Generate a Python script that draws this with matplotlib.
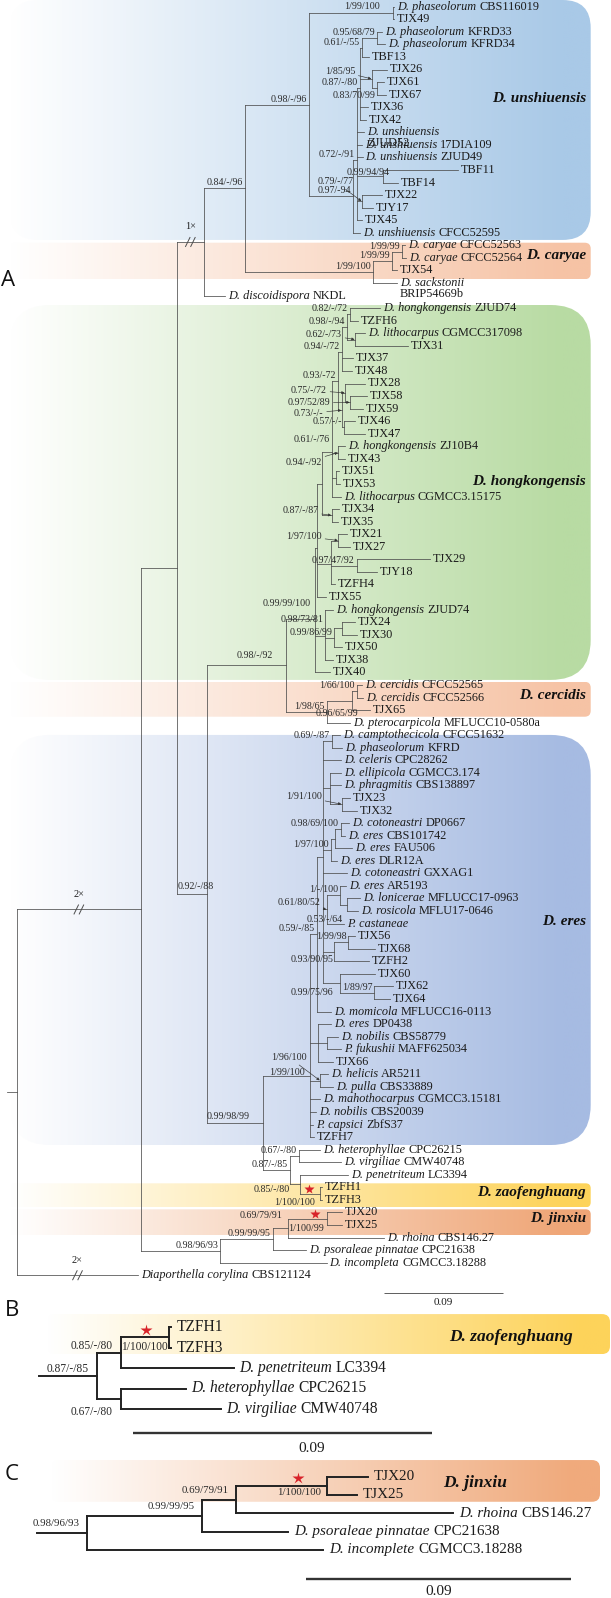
import matplotlib
matplotlib.use("Agg")
import matplotlib.pyplot as plt
import numpy as np
from matplotlib.patches import FancyBboxPatch
from matplotlib.collections import LineCollection
from matplotlib.colors import to_rgb
from matplotlib.transforms import offset_copy

# ============================ DATA ============================
SCALE_VALUE = 0.09   # substitutions/site shown by each scale bar
SCALE_UNITS = 119    # branch-length units used below that equal SCALE_VALUE

# Newick pieces. Leaf text "italic part|roman part" ('~' starts a second line).
# Internal labels are PP/ML/MP supports; an optional '#id' is a styling hook.
UNSHIUENSIS = (
    "(('D. phaseolorum|CBS116019':0.8,'TJX49':0.8)'1/99/100#u3':84,"
    "((((('D. phaseolorum|KFRD33':5,'D. phaseolorum|KFRD34':8)'0.95/68/79':15.3,'TBF13':7.3)'0.61/-/55':1.7,"
    "('TJX26':15.3,('TJX61':7.3,'TJX67':9.3)'0.83/70/99#ub1':5)'1/85/95#ub':11.7,"
    "'TJX36':8,'TJX42':6)'0.87/-/80':3.3,"
    "'D. unshiuensis|~ZJUD52':7.3,'D. unshiuensis|17DIA109':5.3,'D. unshiuensis|ZJUD49':5.8,"
    "('TBF11':75,'TBF14':15)'0.99/94/94#ut':26.6,('TJX22':20,'TJY17':11)'0.79/-/77#uq':5,"
    "'TJX45':5)'0.72/-/91':3.4,'D. unshiuensis|CFCC52595':6.7)'0.97/-94':44)'0.98/-/96':64.3")

CARYAE = ("((('D. caryae|CFCC52563':3.3,'D. caryae|CFCC52564':4.3)'1/99/99':10,'TJX54':5)'1/99/99':19,"
          "'D. sackstonii|~BRIP54669b':24)'1/99/100':127.7")

DISCOIDISPORA = "'D. discoidispora|NKDL':21"

HONGKONGENSIS = (
    "(((((((('D. hongkongensis|ZJUD74':30,'TZFH6':8)'0.82/-/72':3.3,"
    "('D. lithocarpus|CGMCC317098':10,'TJX31':53)'0.62/-/73#hf2':8.3)'0.98/-/94':4.7,"
    "'TJX37':11,'TJX48':10)'0.94/-/72':4,"
    "(('TJX28':20,('TJX58':17,'TJX59':13)'0.97/52/89#hg1':5)'0.75/-/72#hg':3.3,"
    "('TJX46':10.7,'TJX47':20.7)'0.57/-/-':2.6)'0.73/-/-#hx':3.7)'0.93/-72':6.3,"
    "('D. hongkongensis|ZJ10B4':6.7,'TJX43':6.7)'0.94/-/92#hi':6.6,"
    "('TJX51':3,'TJX53':4):4.3,'D. lithocarpus|CGMCC3.15175':9.3)'0.61/-/76#hc':9.7,"
    "('TJX34':7.3,'TJX35':6.3)'0.87/-/87#hk':9.7):5,"
    "(('TJX21':8.7,'TJX27':11.7)'1/97/100#hb1':7.3,('TJX29':73.3,'TJY18':20.3)'0.97/47/92':25.7,'TZFH4':4):14,"
    "'TJX55':9):2,"
    "('D. hongkongensis|ZJUD74':8,(('TJX24':13.3,'TJX30':15.3):7.7,'TJX50':8)'0.99/86/99':9,'TJX38':8)'0.98/73/81#k2':10,"
    "'TJX40':15)'0.99/99/100#k':29.3")

CERCIDIS = ("((('D. cercidis|CFCC52565':5,'D. cercidis|CFCC52566':6)'1/66/100':5,'TJX65':18)'0.96/65/99#c2':25.3,"
            "'D. pterocarpicola|MFLUCC10-0580a':23.3)'1/98/65':41")

ERES = (
    "((("
    "('D. camptothecicola|CFCC51632':8.3,'D. phaseolorum|KFRD':10.3)'0.69/-/87':9,"
    "'D. celeris|CPC28262':18.3,"
    "('D. ellipicola|CGMCC3.174':11,'D. phragmitis|CBS138897':11,('TJX23':8.3,'TJX32':15.3)'1/91/100#ep1':11.7):7.3,"
    "((('D. cotoneastri|DP0667':8,'D. eres|CBS101742':4)'0.98/69/100':6,'D. eres|FAU506':17):4,'D. eres|DLR12A':6)'1/97/100':8.3,"
    "'D. cotoneastri|GXXAG1':24.3,"
    "(('D. eres|AR5193':6,('D. lonicerae|MFLUCC17-0963':13,'D. rosicola|MFLU17-0646':11):7)'1/-/100':13.3,'P. castaneae|':17.3)'0.61/80/52#y0':4,"
    "(('TJX56':6.7,'TJX68':26.7)'1/99/98':14,'TZFH2':34.7)'0.93/90/95#z1':11.6,"
    "('TJX60':35,('TJX62':18.7,'TJX64':15.7)'1/89/97':34.3)'0.99/75/96#w1':17.3"
    "):5.7,'D. momicola|MFLUCC16-0113':14)'0.59/-/85':7,"
    "('D. eres|DP0438':13,('D. nobilis|CBS58779':11.3,'P. fukushii|MAFF625034':14.3):8.7,'TJX66':15):8,"
    "('D. helicis|AR5211':8,'D. pulla|CBS33889':13)'1/96/100#hp':10,"
    "'D. mahothocarpus|CGMCC3.15181':10,'D. nobilis|CBS20039':6,'P. capsici|ZbfS37':3,'TZFH7':4"
    ")'1/99/100#e':47.3")

ZAOFENGHUANG = ("(('D. heterophyllae|CPC26215':21,'D. virgiliae|CMW40748':42)'0.67/-/80':9,"
                "('D. penetriteum|LC3394':48,('TZFH1':2.4,'TZFH3':2.4)'1/100/100#z':19.6)'0.85/-/80#h':10)'0.87/-/85':27.3")

JINXIU = ("(((('TJX20':14.6,'TJX25':14.6)'1/100/99#j3':39.8,'D. rhoina|CBS146.27':96.3)'0.69/79/91#j2':14.6,"
          "'D. psoraleae pinnatae|CPC21638':33)'0.99/99/95':53,'D. incompleta|CGMCC3.18288':106.6)'0.98/96/93':79.3")

OUTGROUP = "'Diaporthella corylina|CBS121124':121"

BACKBONE_A = ("((((({UNS},{CAR})'0.84/-/96':41,{DIS})'#u0':27.3,"
              "(({HKG},{CER})'0.98/-/92#p1':79,({ERE},{ZAO})'0.99/98/99#p2':56)'0.92/-/88#p0':30):36,"
              "{JIN})'#r1':123.7,{OUT}):10")

TREE_B = ("((('TZFH1':0.8,'TZFH3':0.8)'1/100/100#z':19.4,'D. penetriteum|LC3394':45)'0.85/-/80':9.6,"
          "('D. heterophyllae|CPC26215':26,'D. virgiliae|CMW40748':40)'0.67/-/80#g':9.6)'0.87/-/85':23")

TREE_C = ("(((('TJX20':18.5,'TJX25':13.5)'1/100/100#j3':40.8,'D. rhoina|CBS146.27':97.5)'0.69/79/91':15.2,"
          "'D. psoraleae pinnatae|CPC21638':38.8)'0.99/99/95':51.8,'D. incomplete|CGMCC3.18288':106.4)'0.98/96/93':22.2")

LEAF_SUPPORT_A = {'P. castaneae|': '0.53/-/64'}

CLADE_NAMES_A = ['D. unshiuensis', 'D. caryae', 'D. hongkongensis', 'D. cercidis',
                 'D. eres', 'D. zaofenghuang', 'D. jinxiu']
CLADE_ROWS_A = [(0, 18), (19, 21), (24, 53), (54, 56), (58, 90), (94, 95), (96, 97)]
CLADE_COLORS_A = ['#a9c9e7', '#f6c3a5', '#b8dba3', '#f6c3a5', '#a6bbe2', '#fdd35a', '#efa677']
CLADE_B = ('D. zaofenghuang', (0, 1), '#fdd35a')
CLADE_C = ('D. jinxiu', (0, 1), '#f0aa7c')

BREAKS_A = {'u0': '1\u00d7', 'r1': '2\u00d7', 'Diaporthella corylina|CBS121124': '2\u00d7'}

# ============================ STYLE ============================
W, H, DPI = 611, 1598, 100
PT = 72.0 / DPI
TXT = '#1c1c1c'
plt.rcParams['font.family'] = ['Liberation Serif', 'DejaVu Sans']

GEO_A = dict(root_px=17, ppu=1.0, row0=6.7, row=12.56)
GEO_B = dict(root_px=96.6, ppu=2.513, row0=1327, row=20.5)
GEO_C = dict(root_px=86.5, ppu=2.227, row0=1476.7, row=18.3)

# box styles: (pad_top rows, pad_bottom rows, radius px, label fraction)
BOX_STYLE_A = [(0.533, 0.57, 28, 0.41), (0.21, 0.70, 6, 0.36), (0.25, 0.60, 40, 0.47),
               (0.25, 0.53, 6, 0.38), (0.02, 0.63, 40, 0.455), (0.32, 0.59, 5, 0.40),
               (0.25, 0.80, 5, 0.35)]

TWEAKS_A = {
    'u3': dict(d=(-13, -6)), 'ub': dict(d=(-16.7, -7.9), arrow=True), 'ub1': dict(d=(-1.5, 7)),
    'uq': dict(d=(-8.4, -19.7), arrow=True), 'ut': dict(d=(6, -4)),
    'hf2': dict(d=(-13.3, -5.2), arrow=True), 'hg1': dict(d=(-20, 0), arrow=True),
    'hg': dict(d=(-18.3, -2.9), arrow=True), 'hx': dict(d=(-18.4, 3.2), arrow=True),
    'hi': dict(d=(-16.6, 10.1), arrow=True), 'hc': dict(d=(-1.7, -12)),
    'hk': dict(d=(-13.4, -4.4), arrow=True), 'hb1': dict(d=(-16.6, -4.2), arrow=True),
    'k2': dict(d=(-1.7, -16.5)), 'k': dict(d=(-4.3, -14.8)), 'c2': dict(d=(6, 13.3)),
    'p1': dict(d=(-13, -10)), 'ep1': dict(d=(-20, -7.6), arrow=True),
    'y0': dict(d=(-6.7, -6.8), arrow=True), 'z1': dict(d=(-1, 8.1)), 'w1': dict(d=(-6.7, 9.4)),
    'hp': dict(d=(-13.3, -23.3), arrow=True), 'e': dict(d=(-5, -3)),
    'h': dict(d=(-10, 5.8)), 'z': dict(d=(-4.6, 8.4)), 'j2': dict(d=(-5.1, -12.5)),
    'j3': dict(d=(-3.9, 9.5)), 'p0': dict(d=(1.3, -7.4), left=True), 'p2': dict(d=(0, -6), left=True),
}
TWEAKS_B = {'z': dict(d=(-2, 9.4)), 'g': dict(d=(-8, 13))}
TWEAKS_C = {'j3': dict(d=(-5, 7))}


# ============================ TREE HELPERS ============================
def parse_newick(s):
    pos = 0

    def read_label():
        nonlocal pos
        if pos < len(s) and s[pos] == "'":
            end = s.index("'", pos + 1)
            lab = s[pos + 1:end]
            pos = end + 1
            return lab
        start = pos
        while pos < len(s) and s[pos] not in ':,();':
            pos += 1
        return s[start:pos].strip()

    def read_len():
        nonlocal pos
        if pos < len(s) and s[pos] == ':':
            pos += 1
            start = pos
            while pos < len(s) and s[pos] not in ',();':
                pos += 1
            return float(s[start:pos])
        return 0.0

    def node():
        nonlocal pos
        n = {'children': []}
        if s[pos] == '(':
            pos += 1
            while True:
                n['children'].append(node())
                c = s[pos]
                pos += 1
                if c == ')':
                    break
        n['label'] = read_label()
        n['length'] = read_len()
        return n

    return node()


def layout(root):
    leaves = []

    def rec(n, x0):
        n['x0'] = x0
        n['x'] = x0 + n['length']
        if n['children']:
            for c in n['children']:
                rec(c, n['x'])
            n['y'] = float(np.mean([c['y'] for c in n['children']]))
        else:
            n['y'] = float(len(leaves))
            leaves.append(n)

    rec(root, -root['length'])
    return leaves


def walk(n):
    yield n
    for c in n['children']:
        yield from walk(c)


fig = plt.figure(figsize=(W / DPI, H / DPI), dpi=DPI)
axbg = fig.add_axes([0, 0, 1, 1], label='bg')
axbg.axis('off')


def panel_axes(name, g):
    ax = fig.add_axes([0, 0, 1, 1], label=name)
    ax.set_xlim(-g['root_px'] / g['ppu'], (W - g['root_px']) / g['ppu'])
    ax.set_ylim((H - g['row0']) / g['row'], -g['row0'] / g['row'])
    ax.axis('off')
    return ax


def to_px(ax, x, y):
    X, Y = ax.transData.transform((x, y))
    return X, H - Y


def gradient_box(x0, x1, y0, y1, color, radius):
    patch = FancyBboxPatch((x0, y0), x1 - x0, y1 - y0,
                           boxstyle=f"round,pad=0,rounding_size={radius}",
                           facecolor='none', edgecolor='none')
    axbg.add_patch(patch)
    t = np.linspace(0, 1, 300)[:, None]
    c = np.array(to_rgb(color))[None, :]
    rgb = 1 - (1 - c) * np.clip(t * 1.05, 0, 1)
    im = axbg.imshow(rgb[None, :, :], extent=(x0, x1, y1, y0), aspect='auto',
                     interpolation='bilinear', zorder=0)
    im.set_clip_path(patch)


def clade_box(ax, g, rows, style, x0, x1, color, name, lab_x, fs):
    pt, pb, rad, frac = style
    _, ytop = to_px(ax, 0, rows[0] - pt)
    _, ybot = to_px(ax, 0, rows[1] + pb)
    ytop = max(ytop, 0)
    gradient_box(x0, x1, ytop, ybot, color, rad)
    axbg.text(lab_x, ytop + frac * (ybot - ytop), name, ha='right', va='center',
              fontsize=fs, fontweight='bold', style='italic', color='#111111', zorder=3)


def draw_tree(ax, tree, cfg):
    root = parse_newick(tree)
    leaves = layout(root)
    nodes = {}
    segs = []
    for n in walk(root):
        segs.append([(n['x0'], n['y']), (n['x'], n['y'])])
        if n['children']:
            ys = [c['y'] for c in n['children']]
            segs.append([(n['x'], min(ys)), (n['x'], max(ys))])
            nid = n['label'].partition('#')[2]
            if nid:
                nodes[nid] = n
        else:
            nodes[n['label']] = n
    ax.add_collection(LineCollection(segs, colors=cfg['lc'], linewidths=cfg['lw'],
                                     capstyle='projecting'))
    # supports
    for n in walk(root):
        if not n['children']:
            continue
        sup, _, nid = n['label'].partition('#')
        if not sup:
            continue
        tw = cfg['tweaks'].get(nid, {})
        dx, dy = tw.get('d', cfg['label_d'])
        if tw.get('left'):
            xy, ha = (n['x0'], n['y']), 'left'
        else:
            xy, ha = (n['x'], n['y']), 'right'
        kw = {}
        if tw.get('arrow'):
            kw['arrowprops'] = dict(arrowstyle='-|>', color='#333333', lw=0.45,
                                    mutation_scale=4, shrinkA=0.5, shrinkB=0.3)
        ax.annotate(sup, xy=xy, xytext=(dx * PT, -dy * PT), textcoords='offset points',
                    ha=ha, va='center', fontsize=cfg['sup_fs'], color='#2a2a2a', **kw)
    # leaf labels
    for lf in leaves:
        ital, sep, rom = lf['label'].partition('|')
        if not sep:
            ital, rom = '', lf['label']
        rom, _, second = rom.partition('~')
        first = ital if ital else rom
        t1 = ax.annotate(first, xy=(lf['x'], lf['y']), xytext=(cfg['gap'] * PT, 0),
                         textcoords='offset points', ha='left', va='center',
                         fontsize=cfg['leaf_fs'], style='italic' if ital else 'normal', color=TXT)
        if ital and rom:
            ax.annotate(rom, xy=(1, 0), xycoords=t1, xytext=(cfg['leaf_fs'] * 0.25, 0),
                        textcoords='offset points', ha='left', va='bottom',
                        fontsize=cfg['leaf_fs'], color=TXT)
        if second:
            ax.annotate(second, xy=(0, 0), xycoords=t1,
                        xytext=(0, -cfg['geo']['row'] * 0.88 * PT), textcoords='offset points',
                        ha='left', va='bottom', fontsize=cfg['leaf_fs'], color=TXT)
        if lf['label'] in cfg.get('leaf_sup', {}):
            ax.annotate(cfg['leaf_sup'][lf['label']], xy=(lf['x'], lf['y']),
                        xytext=(-1 * PT, 4 * PT), textcoords='offset points',
                        ha='right', va='center', fontsize=cfg['sup_fs'], color='#2a2a2a')
    # stars (placed above the branch)
    for nid, (frac, dy) in cfg.get('stars', {}).items():
        n = nodes[nid]
        tr = offset_copy(ax.transData, fig=fig, x=0, y=dy, units='dots')
        ax.plot([n['x0'] + frac * (n['x'] - n['x0'])], [n['y']], marker='*',
                ms=cfg['star_ms'], color='#d8232a', mec='none', transform=tr, clip_on=False)
    # branch breaks
    for key, txt in cfg.get('breaks', {}).items():
        n = nodes[key]
        X, Y = to_px(ax, 0.5 * (n['x0'] + n['x']), n['y'])
        for k in (-2.6, 2.6):
            axbg.plot([X + k - 2.2, X + k + 2.2], [Y + 4.5, Y - 4.5], color=cfg['lc'],
                      lw=0.7, zorder=4)
        axbg.text(X, Y - 15, txt, ha='center', va='center', fontsize=7.5, color=TXT, zorder=4)
    return root, leaves


def scale_bar(ax, x0, row, lw, color, fs, frac, dy_px):
    ax.plot([x0, x0 + SCALE_UNITS], [row, row], color=color, lw=lw, solid_capstyle='butt')
    tr = offset_copy(ax.transData, fig=fig, x=0, y=-dy_px, units='dots')
    ax.text(x0 + frac * SCALE_UNITS, row, f"{SCALE_VALUE:g}", transform=tr,
            ha='center', va='center', fontsize=fs, color=TXT)


# ============================ PANEL A ============================
axA = panel_axes('A', GEO_A)
tree_a = BACKBONE_A.format(UNS=UNSHIUENSIS, CAR=CARYAE, DIS=DISCOIDISPORA, HKG=HONGKONGENSIS,
                           CER=CERCIDIS, ERE=ERES, ZAO=ZAOFENGHUANG, JIN=JINXIU, OUT=OUTGROUP)
for name, rows, col, st in zip(CLADE_NAMES_A, CLADE_ROWS_A, CLADE_COLORS_A, BOX_STYLE_A):
    clade_box(axA, GEO_A, rows, st, 10, 590.7, col, name, 586, 11)
cfgA = dict(geo=GEO_A, lc='#4d4d4d', lw=0.55, sup_fs=7.2, leaf_fs=8.8, gap=3,
            label_d=(-2, -5.5), tweaks=TWEAKS_A, leaf_sup=LEAF_SUPPORT_A,
            stars={'z': (0.44, 4.5), 'j3': (0.69, 4.5)}, star_ms=7, breaks=BREAKS_A)
draw_tree(axA, tree_a, cfgA)
scale_bar(axA, 367, 102.4, 0.6, '#444444', 8, 0.5, 10)

# ============================ PANEL B ============================
axB = panel_axes('B', GEO_B)
clade_box(axB, GEO_B, CLADE_B[1], (0.63, 0.32, 8, 0.58), 47, 610, CLADE_B[2], CLADE_B[0], 573, 12.5)
cfgB = dict(geo=GEO_B, lc='#222222', lw=1.4, sup_fs=8.3, leaf_fs=11.2, gap=5,
            label_d=(-8, -7), tweaks=TWEAKS_B, stars={'z': (0.52, 7.5)}, star_ms=9)
draw_tree(axB, TREE_B, cfgB)
scale_bar(axB, 14.3, 5.16, 1.7, '#333333', 11, 0.6, 15.6)

# ============================ PANEL C ============================
axC = panel_axes('C', GEO_C)
clade_box(axC, GEO_C, CLADE_C[1], (0.91, 0.37, 8, 0.56), 51, 600, CLADE_C[2], CLADE_C[0], 507, 12.5)
cfgC = dict(geo=GEO_C, lc='#222222', lw=1.4, sup_fs=7.8, leaf_fs=10.9, gap=6,
            label_d=(-7, -9), tweaks=TWEAKS_C, stars={'j3': (0.69, 8)}, star_ms=9)
draw_tree(axC, TREE_C, cfgC)
scale_bar(axC, 98.6, 5.6, 1.7, '#333333', 11, 0.5, 12.4)

# panel letters
for letter, (lx, ly) in zip('ABC', [(1, 280), (5, 1310), (5, 1475)]):
    axbg.text(lx, ly, letter, ha='left', va='center', fontsize=16, family='Open Sans',
              color='#111111', zorder=5)

axbg.set_xlim(0, W)
axbg.set_ylim(H, 0)
fig.savefig('out.png', dpi=DPI)
